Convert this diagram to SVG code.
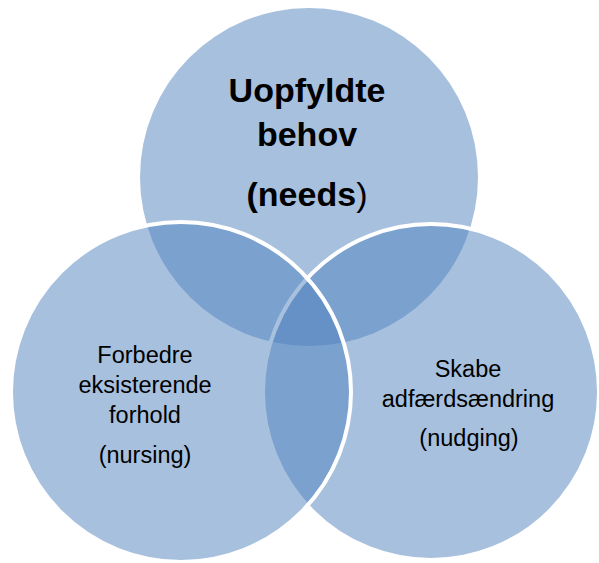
<svg xmlns="http://www.w3.org/2000/svg" width="599" height="563" viewBox="0 0 599 563">
<style>
.c{fill:#4F81BD;fill-opacity:0.5;stroke:#FFFFFF;stroke-width:4}
.t{font-family:"Liberation Sans",Arial,sans-serif;fill:#000;text-anchor:middle}
.b{font-size:34px;font-weight:bold}
.n{font-size:23.5px}
</style>
<rect width="599" height="563" fill="#FFFFFF"/>
<g id="top">
<circle cx="309" cy="177" r="169" fill="#4F81BD" fill-opacity="0.5"/>
<text class="t b" x="307" y="102">Uopfyldte</text>
<text class="t b" x="307" y="146">behov</text>
<text class="t b" x="307" y="206">(needs<tspan font-weight="normal">)</tspan></text>
</g>
<g id="right">
<circle class="c" cx="431" cy="392" r="168"/>
<text class="t n" x="468" y="377">Skabe</text>
<text class="t n" x="468" y="407">adfærdsændring</text>
<text class="t n" x="469" y="446">(nudging)</text>
</g>
<g id="left">
<circle class="c" cx="181" cy="392" r="170"/>
<text class="t n" x="145" y="363">Forbedre</text>
<text class="t n" x="145" y="393">eksisterende</text>
<text class="t n" x="145" y="423">forhold</text>
<text class="t n" x="145" y="463">(nursing)</text>
</g>
<g id="connectors"/>
</svg>
